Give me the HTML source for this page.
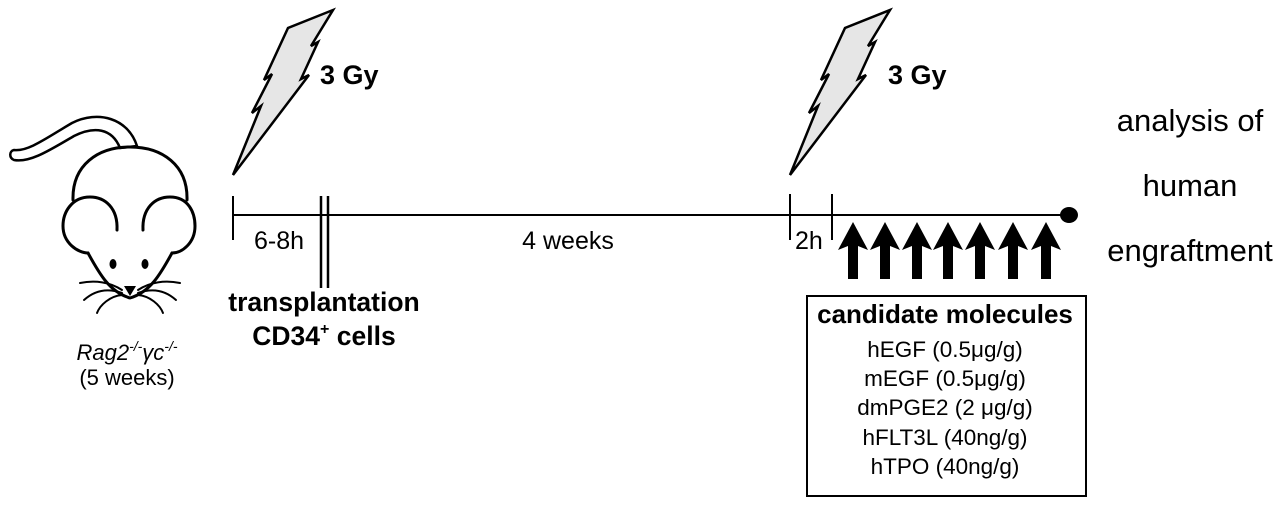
<!DOCTYPE html>
<html><head><style>
html,body{margin:0;padding:0;background:#fff;}
svg{display:block;}
text{font-family:"Liberation Sans",Arial,sans-serif;fill:#000;}
</style></head><body>
<svg width="1280" height="507" viewBox="0 0 1280 507" xmlns="http://www.w3.org/2000/svg">
<!-- tail -->
<path d="M137,146 C128,118 98,110 72,123 C48,137 28,152 14,150 C9,151 9,158 14,160 C30,163 50,150 74,136 C94,126 112,128 120,148 Z" fill="#fff" stroke="#000" stroke-width="2.5" stroke-linejoin="round"/>
<g fill="none" stroke="#000" stroke-width="3" stroke-linecap="round" stroke-linejoin="round">
  <path d="M73,200 C72,165 98,147 130,147 C162,147 188,165 187,200"/>
  <path d="M117,230 C118,208 105,197 90,197 C72,197 63,212 63,226 C63,243 78,253 88,253"/>
  <path d="M143,230 C142,208 155,197 170,197 C188,197 195,212 195,226 C195,243 182,253 172,253"/>
  <path d="M88,253 C100,275 110,292 130,298 C150,292 160,275 172,253"/>
  <path d="M122,290 C110,282 95,280 80,283 M122,293 C108,288 95,290 84,300 M122,295 C110,296 100,305 97,313" stroke-width="2"/>
  <path d="M138,290 C150,282 165,280 180,283 M138,293 C152,288 165,290 176,300 M138,295 C150,296 160,305 163,313" stroke-width="2"/>
</g>
<ellipse cx="113" cy="264" rx="3.5" ry="5" fill="#000"/>
<ellipse cx="145" cy="264" rx="3.5" ry="5" fill="#000"/>
<path d="M124,286 L136,286 L130,296 Z" fill="#000"/>

<!-- bolts -->
<polygon points="233,175 261,106 252,113 272,74 264,80 288,28 333,10 311,46 318,42 301,79 309,75" fill="#e6e6e6" stroke="#000" stroke-width="2.5" stroke-linejoin="miter"/>
<polygon points="790,175 818,106 809,113 829,74 821,80 845,28 890,10 868,46 875,42 858,79 866,75" fill="#e6e6e6" stroke="#000" stroke-width="2.5" stroke-linejoin="miter"/>
<text x="320" y="84" font-size="27" font-weight="bold">3 Gy</text>
<text x="888" y="84" font-size="27" font-weight="bold">3 Gy</text>

<!-- timeline -->
<g stroke="#000" stroke-width="2">
  <line x1="233" y1="215" x2="1065" y2="215"/>
  <line x1="233" y1="196" x2="233" y2="240"/>
  <line x1="321" y1="196" x2="321" y2="288" stroke-width="2.5"/>
  <line x1="328" y1="196" x2="328" y2="288" stroke-width="2.5"/>
  <line x1="790" y1="194" x2="790" y2="240"/>
  <line x1="832" y1="194" x2="832" y2="240"/>
</g>
<ellipse cx="1069" cy="215" rx="9" ry="8" fill="#000"/>

<g fill="#000">
  <path id="ar" d="M0,0 L15,28 L5,24 L5,57 L-5,57 L-5,24 L-15,28 Z" transform="translate(853,222)"/>
  <use href="#ar" x="32"/><use href="#ar" x="64"/><use href="#ar" x="95"/><use href="#ar" x="127"/><use href="#ar" x="160"/><use href="#ar" x="193"/>
</g>

<text x="254" y="249" font-size="25">6-8h</text>
<text x="568" y="249" font-size="25" text-anchor="middle">4 weeks</text>
<text x="795" y="249" font-size="25">2h</text>
<text x="324" y="311" font-size="26.5" font-weight="bold" text-anchor="middle">transplantation</text>
<text x="324" y="345" font-size="26.5" font-weight="bold" text-anchor="middle">CD34<tspan font-size="16" dy="-11">+</tspan><tspan dy="11"> cells</tspan></text>

<text x="127" y="360" font-size="22" text-anchor="middle"><tspan font-style="italic">Rag2</tspan><tspan font-size="14" dy="-9" font-style="italic">-/-</tspan><tspan dy="9" font-style="italic">γc</tspan><tspan font-size="14" dy="-9" font-style="italic">-/-</tspan></text>
<text x="127" y="385" font-size="22" text-anchor="middle">(5 weeks)</text>

<text x="1190" y="131" font-size="31" text-anchor="middle">analysis of</text>
<text x="1190" y="196" font-size="31" text-anchor="middle">human</text>
<text x="1190" y="261" font-size="31" text-anchor="middle">engraftment</text>

<rect x="807" y="296" width="279" height="200" fill="none" stroke="#000" stroke-width="2"/>
<text x="945" y="323" font-size="26" font-weight="bold" text-anchor="middle">candidate molecules</text>
<text x="945" y="357" font-size="22.5" text-anchor="middle">hEGF (0.5μg/g)</text>
<text x="945" y="386" font-size="22.5" text-anchor="middle">mEGF (0.5μg/g)</text>
<text x="945" y="415" font-size="22.5" text-anchor="middle">dmPGE2 (2 μg/g)</text>
<text x="945" y="445" font-size="22.5" text-anchor="middle">hFLT3L (40ng/g)</text>
<text x="945" y="474" font-size="22.5" text-anchor="middle">hTPO (40ng/g)</text>
</svg>
</body></html>
